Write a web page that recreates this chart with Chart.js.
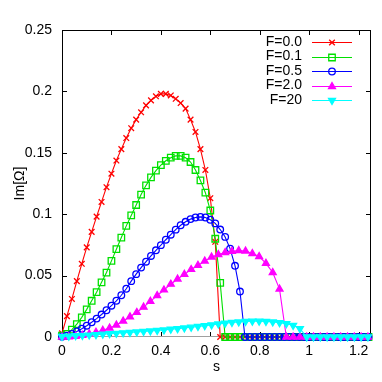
<!DOCTYPE html>
<html>
<head>
<meta charset="utf-8">
<script src="https://cdn.jsdelivr.net/npm/chart.js@4.4.1/dist/chart.umd.min.js"></script>
<style>
  html, body { margin: 0; padding: 0; background: #fff; }
  #wrap { width: 382px; height: 382px; }
</style>
</head>
<body>
<div id="wrap"><canvas id="chart"></canvas></div>
<script>
// s grids (two sampling steps used in the figure)
const S_FINE_STEP = 0.02;
const S_WIDE_STEP = 0.0275;
const S_MAX = 1.25;

// Im[Ω] values, from s = 0 upward; the rest of the grid is 0
const imF00 = [0.003, 0.017, 0.031, 0.0455, 0.0596, 0.073, 0.0856, 0.098, 0.110, 0.122,
  0.133, 0.1437, 0.153, 0.162, 0.170, 0.177, 0.183, 0.1886, 0.1927, 0.196,
  0.198, 0.198, 0.1967, 0.194, 0.1905, 0.186, 0.177, 0.167, 0.153, 0.136,
  0.113, 0.0775];
const imF01 = [0.001, 0.0025, 0.006, 0.0105, 0.016, 0.0225, 0.0295, 0.0365, 0.0445, 0.0525,
  0.062, 0.0715, 0.081, 0.0905, 0.099, 0.1075, 0.116, 0.1235, 0.130, 0.1355,
  0.140, 0.1435, 0.146, 0.1475, 0.1475, 0.146, 0.1425, 0.136, 0.1275, 0.1175,
  0.103, 0.080, 0.044];
const imF05 = [0.0003, 0.001, 0.0025, 0.0045, 0.0067, 0.0092, 0.012, 0.015, 0.0183, 0.0218,
  0.0255, 0.0295, 0.034, 0.0393, 0.0455, 0.0512, 0.0565, 0.0613, 0.066, 0.0706,
  0.0748, 0.0792, 0.0833, 0.0874, 0.091, 0.0938, 0.096, 0.0973, 0.0978, 0.0973,
  0.0955, 0.0925, 0.0875, 0.0815, 0.072, 0.058, 0.037];
const imF20 = [0, 0.0002, 0.0006, 0.0014, 0.0025, 0.0039, 0.0055, 0.0073, 0.0097, 0.013,
  0.0165, 0.02, 0.0243, 0.029, 0.0337, 0.0383, 0.043, 0.0472, 0.051, 0.055,
  0.0583, 0.0618, 0.0651, 0.0672, 0.0688, 0.0698, 0.0703, 0.07, 0.068, 0.0655,
  0.06, 0.0525, 0.039];
const imF200 = [0.0005, 0.0007, 0.001, 0.0013, 0.0016, 0.0019, 0.0023, 0.0027, 0.003, 0.0034,
  0.0037, 0.0041, 0.0045, 0.0049, 0.0053, 0.0058, 0.0063, 0.0068, 0.0074, 0.008,
  0.0086, 0.0093, 0.0099, 0.0106, 0.0112, 0.0118, 0.0123, 0.0127, 0.0129, 0.0129,
  0.0127, 0.0123, 0.0117, 0.0108, 0.0095, 0.0068];

const seriesLabels = ['F=0.0', 'F=0.1', 'F=0.5', 'F=2.0', 'F=20'];
const seriesColors = ['#ff0000', '#00e000', '#0000ff', '#ff00ff', '#00ffff'];
const xTicks = [0, 0.2, 0.4, 0.6, 0.8, 1, 1.2];
const yTicks = [0, 0.05, 0.1, 0.15, 0.2, 0.25];

const FONT = '"Liberation Sans", Arial, sans-serif';

// build {x, y} points on a grid, padding past the cutoff with zeros
function toPoints(values, step) {
  const pts = [];
  for (let i = 0; i * step <= S_MAX + 1e-9; i++) {
    const s = +(i * step).toFixed(4);
    pts.push({ x: s, y: i < values.length ? values[i] : 0 });
  }
  return pts;
}

const markers = [
  { pointStyle: 'crossRot', radius: 4, rotation: 0, fill: false },
  { pointStyle: 'rect', radius: 4.6, rotation: 0, fill: false },
  { pointStyle: 'circle', radius: 3.3, rotation: 0, fill: false },
  { pointStyle: 'triangle', radius: 4, rotation: 0, fill: true },
  { pointStyle: 'triangle', radius: 4, rotation: 180, fill: true }
];

const seriesData = [
  toPoints(imF00, S_FINE_STEP),
  toPoints(imF01, S_FINE_STEP),
  toPoints(imF05, S_FINE_STEP),
  toPoints(imF20, S_WIDE_STEP),
  toPoints(imF200, S_WIDE_STEP)
];

const datasets = seriesData.map((pts, i) => ({
  label: seriesLabels[i],
  data: pts,
  borderColor: seriesColors[i],
  borderWidth: 1.1,
  pointStyle: markers[i].pointStyle,
  pointRadius: markers[i].radius,
  pointRotation: markers[i].rotation,
  pointBorderColor: seriesColors[i],
  pointBackgroundColor: markers[i].fill ? seriesColors[i] : 'rgba(0,0,0,0)',
  pointBorderWidth: 1.3,
  tension: 0,
  clip: 8,
  order: seriesLabels.length - i // later series on top, like gnuplot
}));

const fmt = v => String(+(+v).toFixed(3));

// box border with inward, mirrored ticks
const framePlugin = {
  id: 'frame',
  beforeDatasetsDraw(chart) {
    const { ctx, chartArea: a, scales: { x, y } } = chart;
    const L = 5;
    ctx.save();
    ctx.strokeStyle = '#000';
    ctx.lineWidth = 1;
    ctx.beginPath();
    xTicks.forEach(t => {
      const px = Math.round(x.getPixelForValue(t)) + 0.5;
      ctx.moveTo(px, a.bottom); ctx.lineTo(px, a.bottom - L);
      ctx.moveTo(px, a.top); ctx.lineTo(px, a.top + L);
    });
    yTicks.forEach(t => {
      const py = Math.round(y.getPixelForValue(t)) + 0.5;
      ctx.moveTo(a.left, py); ctx.lineTo(a.left + L, py);
      ctx.moveTo(a.right, py); ctx.lineTo(a.right - L, py);
    });
    ctx.stroke();
    ctx.strokeRect(Math.round(a.left) + 0.5, Math.round(a.top) + 0.5,
      Math.round(a.right - a.left) - 1, Math.round(a.bottom - a.top) - 1);
    // grey zero axis
    ctx.strokeStyle = '#a0a0a0';
    ctx.beginPath();
    const y0 = Math.round(y.getPixelForValue(0)) - 0.5;
    ctx.moveTo(a.left, y0); ctx.lineTo(a.right, y0);
    ctx.stroke();
    ctx.restore();
  }
};

// gnuplot-style key: text right-aligned, then line sample with marker
const keyPlugin = {
  id: 'key',
  afterDatasetsDraw(chart) {
    const { ctx } = chart;
    const textRight = 302, lineStart = 312, lineEnd = 352, top = 42, rowH = 14.5;
    ctx.save();
    ctx.font = '14px ' + FONT;
    ctx.textAlign = 'right';
    ctx.textBaseline = 'middle';
    seriesLabels.forEach((lab, i) => {
      const yy = top + i * rowH;
      ctx.fillStyle = '#000';
      ctx.fillText(lab, textRight, yy);
      ctx.strokeStyle = seriesColors[i];
      ctx.lineWidth = 1.1;
      ctx.beginPath();
      ctx.moveTo(lineStart, Math.round(yy) + 0.5);
      ctx.lineTo(lineEnd, Math.round(yy) + 0.5);
      ctx.stroke();
      ctx.fillStyle = markers[i].fill ? seriesColors[i] : 'rgba(0,0,0,0)';
      ctx.lineWidth = 1.3;
      Chart.helpers.drawPoint(ctx, {
        pointStyle: markers[i].pointStyle,
        radius: markers[i].radius,
        rotation: markers[i].rotation,
        borderWidth: 1.3
      }, (lineStart + lineEnd) / 2, Math.round(yy) + 0.5);
    });
    ctx.restore();
  }
};

new Chart(document.getElementById('chart'), {
  type: 'line',
  data: { datasets },
  options: {
    responsive: true,
    maintainAspectRatio: false,
    animation: false,
    layout: { padding: { top: 30, right: 11, left: 0, bottom: 0 } },
    plugins: {
      legend: { display: false },
      tooltip: { enabled: false }
    },
    scales: {
      x: {
        type: 'linear',
        min: 0,
        max: S_MAX,
        grid: { display: false, drawTicks: false },
        border: { display: false },
        afterBuildTicks: s => { s.ticks = xTicks.map(v => ({ value: v })); },
        afterFit: s => { s.height = 45; },
        ticks: {
          padding: 6,
          color: '#000',
          font: { family: FONT, size: 14 },
          maxRotation: 0,
          autoSkip: false,
          callback: fmt
        },
        title: {
          display: true,
          text: 's',
          color: '#000',
          font: { family: FONT, size: 14 },
          padding: { top: 0, bottom: 6 }
        }
      },
      y: {
        type: 'linear',
        min: 0,
        max: 0.25,
        grid: { display: false, drawTicks: false },
        border: { display: false },
        afterBuildTicks: s => { s.ticks = yTicks.map(v => ({ value: v })); },
        afterFit: s => { s.width = 62; },
        ticks: {
          padding: 10,
          color: '#000',
          font: { family: FONT, size: 14 },
          autoSkip: false,
          callback: fmt
        },
        title: {
          display: true,
          text: 'Im[Ω]',
          color: '#000',
          font: { family: FONT, size: 14 },
          padding: { top: 12, bottom: 0 }
        }
      }
    }
  },
  plugins: [framePlugin, keyPlugin]
});
</script>
</body>
</html>
